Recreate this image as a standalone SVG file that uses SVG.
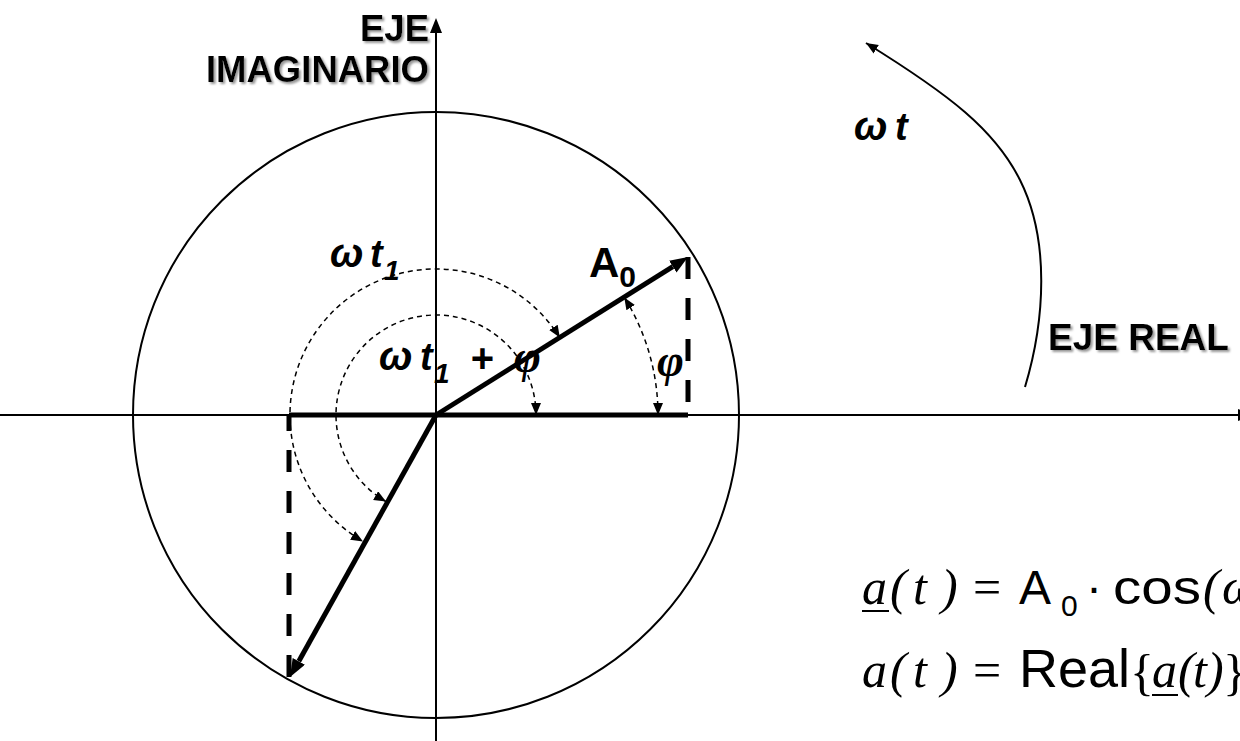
<svg xmlns="http://www.w3.org/2000/svg" width="1240" height="741" viewBox="0 0 1240 741">
<style>
.thin{stroke:#000;stroke-width:2;fill:none}
.thick{stroke:#000;stroke-width:5;fill:none}
.tdash{stroke:#000;stroke-width:5;fill:none;stroke-dasharray:22 19}
.arc{stroke:#000;stroke-width:1.5;fill:none;stroke-dasharray:5 4}
.bold{font-family:"Liberation Sans",Arial,sans-serif;font-weight:bold;fill:#000}
.sym{font-family:"Liberation Sans",Arial,sans-serif;font-weight:bold;font-style:italic;fill:#000}
.phi{font-family:"Liberation Serif","Times New Roman",serif;font-weight:bold;font-style:italic;fill:#000}
.ti{font-family:"Liberation Serif","Times New Roman",serif;font-style:italic;fill:#000;font-size:50px}
.tr{font-family:"Liberation Serif","Times New Roman",serif;fill:#000;font-size:50px}
.ar{font-family:"Liberation Sans",Arial,sans-serif;fill:#000}
</style>
<defs>
<filter id="sh" x="-10%" y="-20%" width="130%" height="150%">
<feDropShadow dx="2" dy="2" stdDeviation="0.8" flood-color="#999" flood-opacity="1"/>
</filter>
<marker id="big" markerUnits="userSpaceOnUse" markerWidth="20" markerHeight="16" refX="0" refY="7" orient="auto">
<path d="M0,0 L18,7 L0,14 z" fill="#000"/>
</marker>
<marker id="axis" markerUnits="userSpaceOnUse" markerWidth="16" markerHeight="14" refX="0" refY="6" orient="auto">
<path d="M0,0 L15,6 L0,12 z" fill="#000"/>
</marker>
<marker id="small" markerUnits="userSpaceOnUse" markerWidth="14" markerHeight="12" refX="12" refY="5" orient="auto-start-reverse">
<path d="M0,0 L12,5 L0,10 z" fill="#000"/>
</marker>
<marker id="curve" markerUnits="userSpaceOnUse" markerWidth="14" markerHeight="12" refX="12" refY="5" orient="auto">
<path d="M0,0 L12,5 L0,10 z" fill="#000"/>
</marker>
</defs>
<rect width="1240" height="741" fill="#fff"/>

<g id="circle"><circle cx="436" cy="415" r="303" class="thin"/></g>

<g id="connectors">
<line x1="0" y1="415" x2="1238" y2="415" class="thin" marker-end="url(#axis)"/>
<line x1="436" y1="741" x2="436" y2="33" class="thin" marker-end="url(#axis)"/>
<line x1="289" y1="415" x2="688" y2="415" class="thick"/>
<line x1="688" y1="257" x2="688" y2="415" class="tdash"/>
<line x1="289" y1="677" x2="289" y2="415" class="tdash"/>
<line x1="436" y1="415" x2="672.8" y2="266.6" class="thick" marker-end="url(#big)"/>
<line x1="436" y1="415" x2="298.8" y2="661.3" class="thick" marker-end="url(#big)"/>
<path d="M559.8,337.6 A146,146 0 1 0 363,541.4" class="arc" marker-start="url(#small)" marker-end="url(#small)"/>
<path d="M536,415 A100,100 0 1 0 386,501.6" class="arc" marker-start="url(#small)" marker-end="url(#small)"/>
<path d="M658,415 A222,222 0 0 0 624.3,297.4" class="arc" marker-start="url(#small)" marker-end="url(#small)"/>
<path d="M1025,387 C1045,320 1050,240 1020,180 C995,130 950,95 866,43" class="thin" stroke-width="1.5" marker-end="url(#curve)"/>
</g>

<g id="label-eje-imaginario" filter="url(#sh)">
<text x="429" y="41" class="bold" font-size="36.5" text-anchor="end">EJE</text>
<text x="429" y="82" class="bold" font-size="36.5" text-anchor="end">IMAGINARIO</text>
</g>
<g id="label-eje-real" filter="url(#sh)">
<text x="1048" y="350" class="bold" font-size="37">EJE REAL</text>
</g>
<g id="label-wt">
<text x="854" y="140" class="sym" font-size="40">ω</text>
<text x="895" y="140" class="sym" font-size="38">t</text>
</g>
<g id="label-wt1">
<text x="330" y="267" class="sym" font-size="40">ω</text>
<text x="370" y="267" class="sym" font-size="38">t</text>
<text x="384" y="280" class="sym" font-size="28">1</text>
</g>
<g id="label-wt1phi">
<text x="379" y="370" class="sym" font-size="40">ω</text>
<text x="420" y="370" class="sym" font-size="38">t</text>
<text x="434" y="383" class="sym" font-size="28">1</text>
<text x="470" y="372" class="sym" font-size="40">+</text>
<text x="514" y="372" class="phi" font-size="46">φ</text>
</g>
<g id="label-A0">
<text x="589" y="277" class="bold" font-size="42">A<tspan font-size="30" dy="10">0</tspan></text>
</g>
<g id="label-phi">
<text x="657" y="376" class="phi" font-size="46">φ</text>
</g>

<g id="equation-1">
<text x="862" y="604" class="ti">a</text>
<line x1="862" y1="611" x2="889" y2="611" stroke="#000" stroke-width="2"/>
<text x="890" y="604" class="ti">(</text>
<text x="913" y="604" class="ti">t</text>
<text x="941" y="604" class="ti">)</text>
<text x="973" y="604" class="tr">=</text>
<text x="1019" y="604" class="ar" font-size="48">A</text>
<text x="1061" y="616" class="ar" font-size="30">0</text>
<text x="1086" y="604" class="ar" font-size="48">·</text>
<text x="1113" y="604" class="ar" font-size="48" textLength="88" lengthAdjust="spacingAndGlyphs">cos</text>
<text x="1203" y="604" class="ti">(</text>
<text x="1222" y="604" class="ti">ω</text>
</g>
<g id="equation-2">
<text x="862" y="687" class="ti">a</text>
<text x="890" y="687" class="ti">(</text>
<text x="913" y="687" class="ti">t</text>
<text x="941" y="687" class="ti">)</text>
<text x="973" y="687" class="tr">=</text>
<text x="1019" y="687" class="ar" font-size="54">Real</text>
<text x="1130" y="689" class="tr" font-size="72">{</text>
<text x="1152" y="687" class="ti">a</text>
<line x1="1152" y1="695" x2="1178" y2="695" stroke="#000" stroke-width="2"/>
<text x="1178" y="687" class="ti">(</text>
<text x="1193" y="687" class="ti">t</text>
<text x="1207" y="687" class="ti">)</text>
<text x="1223" y="689" class="tr" font-size="72">}</text>
</g>
</svg>
